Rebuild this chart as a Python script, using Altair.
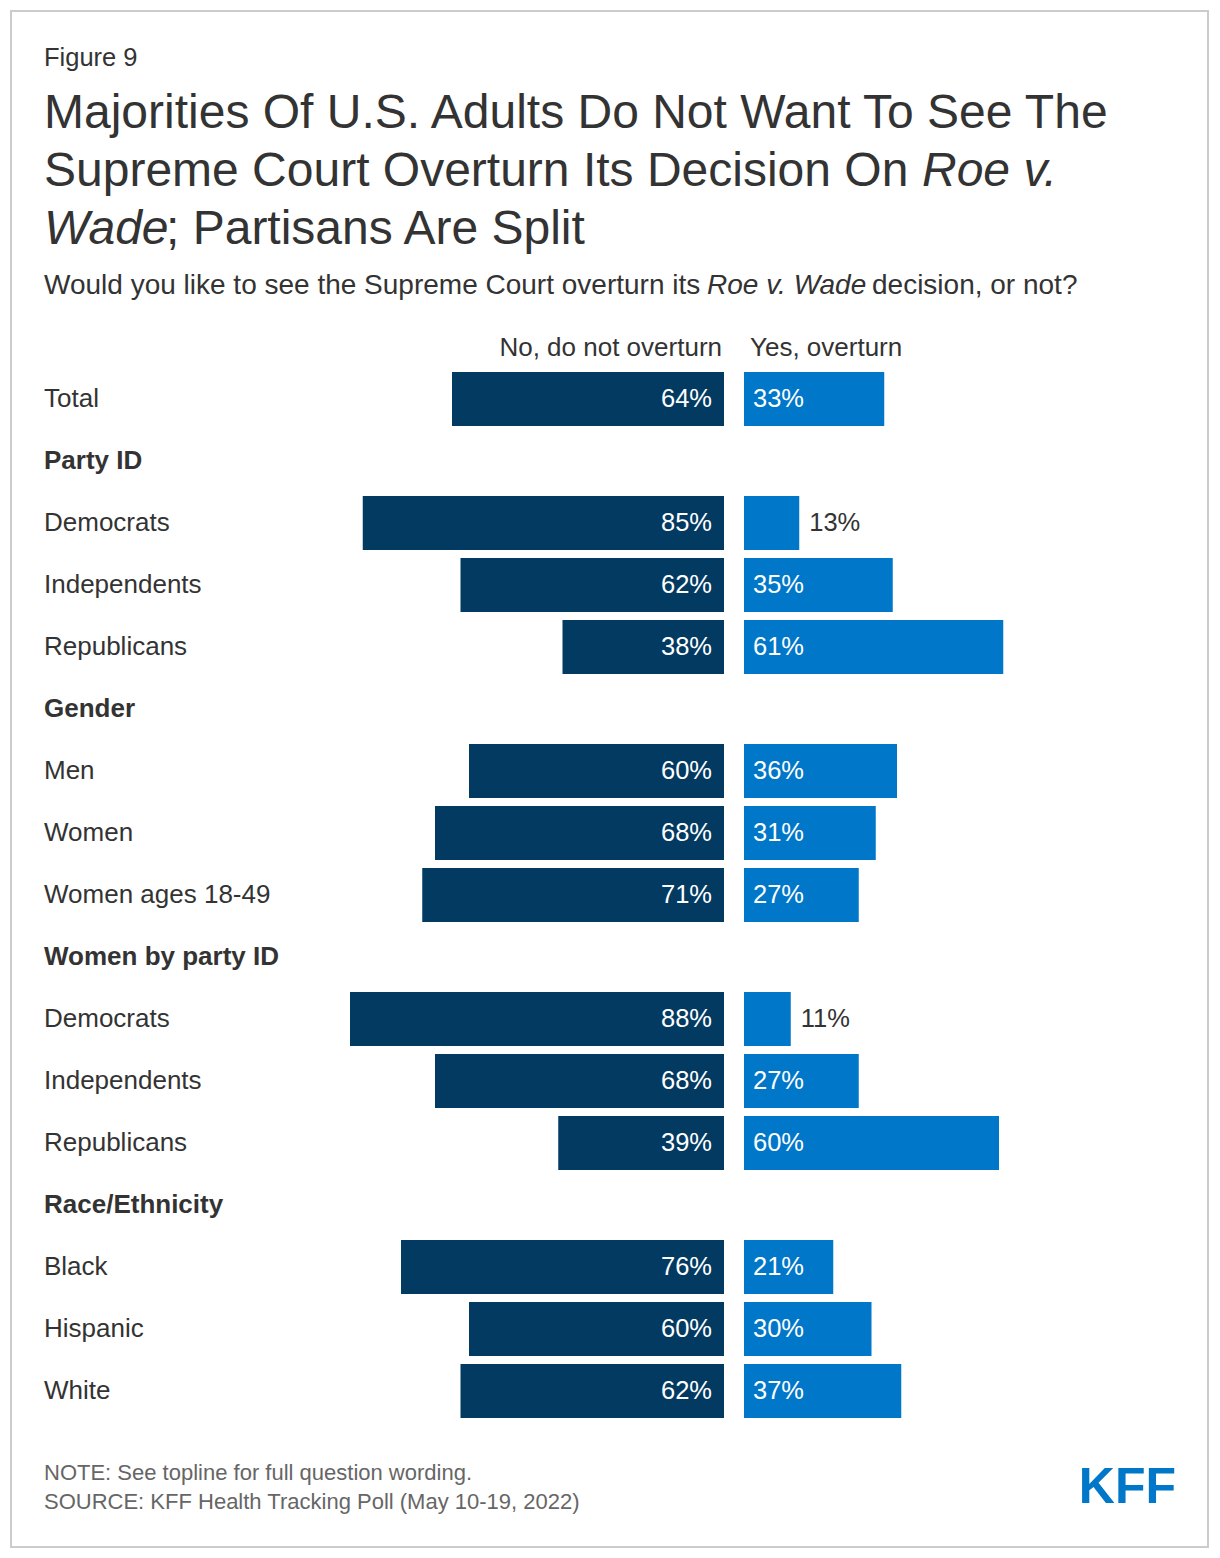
import altair as alt
import pandas as pd

FONT = "Liberation Sans"
DARK = "#023a62"
LIGHT = "#0077c8"
TEXT = "#333333"

labels = ["Total", "Party ID", "Democrats", "Independents", "Republicans",
          "Gender", "Men", "Women", "Women ages 18-49",
          "Women by party ID", "Democrats", "Independents", "Republicans",
          "Race/Ethnicity", "Black", "Hispanic", "White"]
is_header = [False, True, False, False, False,
             True, False, False, False,
             True, False, False, False,
             True, False, False, False]
no_vals = [64, None, 85, 62, 38, None, 60, 68, 71, None, 88, 68, 39, None, 76, 60, 62]
yes_vals = [33, None, 13, 35, 61, None, 36, 31, 27, None, 11, 27, 60, None, 21, 30, 37]

df = pd.DataFrame({
    "idx": list(range(len(labels))),
    "label": labels,
    "header": is_header,
    "no": no_vals,
    "yes": yes_vals,
})

Y = alt.Y("idx:O", axis=None,
          scale=alt.Scale(domain=list(range(len(labels))), range=[360, 1414],
                          paddingInner=0.129, paddingOuter=0.0645))
NO_SCALE = alt.Scale(domain=[0, 100], range=[716, 291], nice=False, zero=True)
YES_SCALE = alt.Scale(domain=[0, 100], range=[736, 1161], nice=False, zero=True)

base = alt.Chart(df).transform_calculate(
    zero="0",
    no_lbl="datum.no + '%'",
    yes_lbl="datum.yes + '%'",
)

no_bars = base.transform_filter("datum.no != null").mark_bar(color=DARK).encode(
    x=alt.X("no:Q", scale=NO_SCALE, axis=None),
    x2="zero:Q",
    y=Y,
)
yes_bars = base.transform_filter("datum.yes != null").mark_bar(color=LIGHT).encode(
    x=alt.X("yes:Q", scale=YES_SCALE, axis=None),
    x2="zero:Q",
    y=Y,
)
no_text = base.transform_filter("datum.no != null").mark_text(
    align="right", baseline="middle", dx=-12, color="white", fontSize=25.5, font=FONT
).encode(x=alt.X("zero:Q", scale=NO_SCALE, axis=None), y=Y, text="no_lbl:N")

yes_text_in = base.transform_filter("datum.yes != null && datum.yes >= 15").mark_text(
    align="left", baseline="middle", dx=9, color="white", fontSize=25.5, font=FONT
).encode(x=alt.X("zero:Q", scale=YES_SCALE, axis=None), y=Y, text="yes_lbl:N")

yes_text_out = base.transform_filter("datum.yes != null && datum.yes < 15").mark_text(
    align="left", baseline="middle", dx=10, color=TEXT, fontSize=25.5, font=FONT
).encode(x=alt.X("yes:Q", scale=YES_SCALE, axis=None), y=Y, text="yes_lbl:N")

row_labels = base.transform_filter("!datum.header").mark_text(
    align="left", baseline="middle", color=TEXT, fontSize=26, font=FONT
).encode(x=alt.value(36), y=Y, text="label:N")

head_labels = base.transform_filter("datum.header").mark_text(
    align="left", baseline="middle", color=TEXT, fontSize=26, font=FONT, fontWeight="bold"
).encode(x=alt.value(36), y=Y, text="label:N")

dummy = pd.DataFrame({"a": [0]})


def txt(s, x, y, size, color=TEXT, weight="normal", style="normal", align="left", font=FONT):
    return alt.Chart(dummy).mark_text(
        align=align, baseline="alphabetic", fontSize=size, font=font, color=color,
        fontWeight=weight, fontStyle=style, text=s
    ).encode(x=alt.value(x), y=alt.value(y))


texts = [
    txt("Figure 9", 36, 58, 25.5),
    txt("Majorities Of U.S. Adults Do Not Want To See The", 36, 120, 48),
    txt("Supreme Court Overturn Its Decision On", 36, 178, 48),
    txt("Roe v.", 914, 178, 48, style="italic"),
    txt("Wade", 36, 236, 48, style="italic"),
    txt("; Partisans Are Split", 158, 236, 48),
    txt("Would you like to see the Supreme Court overturn its", 36, 286, 28),
    txt("Roe v. Wade", 699, 286, 28, style="italic"),
    txt("decision, or not?", 864, 286, 28),
    txt("No, do not overturn", 714, 348, 26, align="right"),
    txt("Yes, overturn", 742, 348, 26),
    txt("NOTE: See topline for full question wording.", 36, 1472, 22, color="#666666"),
    txt("SOURCE: KFF Health Tracking Poll (May 10-19, 2022)", 36, 1501, 22, color="#666666"),
    txt("KFF", 1168, 1495, 50, color=LIGHT, weight="bold", align="right"),
]

border = alt.Chart(dummy).mark_rect(
    filled=False, stroke="#cccccc", strokeWidth=2
).encode(x=alt.value(3), x2=alt.value(1200), y=alt.value(3), y2=alt.value(1539))

chart = alt.layer(
    border, no_bars, yes_bars, no_text, yes_text_in, yes_text_out,
    row_labels, head_labels, *texts
).resolve_scale(x="independent").properties(
    width=1204, height=1542,
    autosize=alt.AutoSizeParams(type="none"),
    padding=0,
    background="white",
).configure_view(stroke=None)

chart.save("out.html", embed_options={"renderer": "svg", "actions": False})
